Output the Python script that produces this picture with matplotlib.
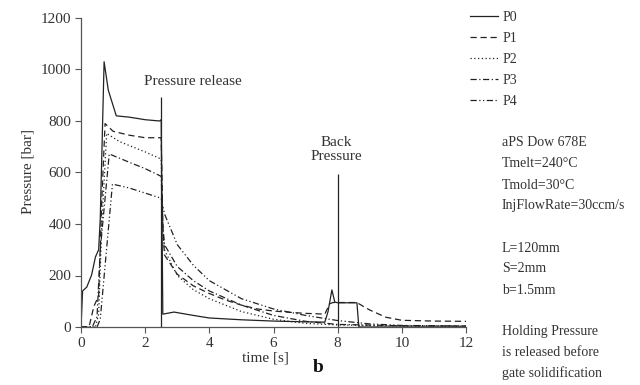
import matplotlib
matplotlib.use("Agg")
import matplotlib.pyplot as plt

plt.rcParams["font.family"] = ["Liberation Serif", "DejaVu Serif"]

# time [s] and pressure [bar] for each sensor position
t_p0 = [0, 0.05, 0.18, 0.33, 0.45, 0.55, 0.6, 0.72, 0.85, 1.1, 1.5, 2.0, 2.45, 2.5,
        2.55, 2.9, 3.5, 4.0, 5.0, 6.0, 7.0, 7.6, 7.7, 7.82, 7.91, 8.0, 8.6, 8.66, 9.0, 12.0]
p_p0 = [0, 140, 155, 202, 272, 300, 420, 1030, 920, 820, 815, 805, 800, 805,
        50, 58, 45, 35, 28, 23, 20, 19, 60, 144, 97, 94, 94, 0, 0, 0]

t_p1 = [0, 0.25, 0.4, 0.55, 0.65, 0.75, 1.0, 1.5, 2.0, 2.5, 2.55, 2.6, 3.0, 3.5, 4.0,
        4.5, 5.0, 5.5, 6.0, 6.5, 7.0, 7.6, 7.75, 7.85, 8.6, 8.8, 9.0, 9.5, 10.0, 11.0, 12.0]
p_p1 = [0, 0, 80, 120, 500, 790, 760, 745, 735, 735, 400, 280, 205, 160, 130,
        105, 85, 70, 62, 57, 53, 50, 90, 95, 95, 80, 66, 38, 26, 23, 22]

t_p2 = [0, 0.45, 0.55, 0.65, 0.8, 1.2, 2.0, 2.5, 2.55, 2.6, 3.0, 3.5, 4.0, 5.0, 6.0,
        7.0, 8.0, 10.0, 12.0]
p_p2 = [0, 0, 50, 400, 752, 720, 680, 652, 380, 300, 200, 145, 110, 60, 30,
        14, 8, 4, 3]

t_p3 = [0, 0.35, 0.5, 0.6, 0.88, 1.5, 2.0, 2.5, 2.55, 2.6, 3.0, 3.5, 4.0, 5.0, 6.0,
        7.0, 8.0, 10.0, 12.0]
p_p3 = [0, 0, 40, 300, 672, 640, 615, 585, 400, 320, 235, 180, 140, 85, 45,
        22, 10, 5, 4]

t_p4 = [0, 0.5, 0.6, 0.98, 1.5, 2.0, 2.5, 2.55, 2.6, 3.0, 3.5, 4.0, 5.0, 6.0, 7.0,
        8.0, 9.0, 10.0, 12.0]
p_p4 = [0, 0, 30, 555, 540, 520, 500, 470, 440, 320, 240, 180, 110, 70, 45,
        25, 12, 6, 4]

series = [
    ("P0", t_p0, p_p0, "-"),
    ("P1", t_p1, p_p1, (0, (5, 3))),
    ("P2", t_p2, p_p2, (0, (1, 2))),
    ("P3", t_p3, p_p3, (0, (5, 2, 1, 2))),
    ("P4", t_p4, p_p4, (0, (5, 2, 1, 2, 1, 2))),
]

notes = ["aPS Dow 678E", "Tmelt=240°C", "Tmold=30°C", "InjFlowRate=30ccm/s",
         "L=120mm", "S=2mm", "b=1.5mm",
         "Holding Pressure", "is released before", "gate solidification"]
note_y = [143, 164, 185, 206, 248, 269, 290, 331, 352, 373]

W, H = 640, 385
fig = plt.figure(figsize=(6.4, 3.85), dpi=100)
ax = fig.add_axes([81 / W, 1 - 327 / H, (466 - 81) / W, (327 - 18) / H])

ink = "#333333"
for name, t, p, ls in series:
    ax.plot(t, p, color="#222222", lw=0.9, ls=ls, label=name)

# event markers
ax.vlines(2.5, 0, 895, color="#222222", lw=0.9)
ax.vlines(8.0, 0, 595, color="#222222", lw=0.9)
ax.text(3.49, 955, "Pressure release", ha="center", va="center", fontsize=11, color=ink)
ax.text(7.95, 690, "Back\nPressure", ha="center", va="center", fontsize=11,
        color=ink, linespacing=1.1)

ax.set_xlim(0, 12)
ax.set_ylim(0, 1200)
ax.set_xticks(range(0, 13, 2))
ax.set_yticks(range(0, 1201, 200))
for s in ["top", "right"]:
    ax.spines[s].set_visible(False)
for s in ["left", "bottom"]:
    ax.spines[s].set_color("#555555")
    ax.spines[s].set_linewidth(0.9)
ax.tick_params(direction="out", length=4, width=0.8, color="#555555",
               labelsize=11, labelcolor=ink, pad=3)

fig.text(28 / W, 1 - 172 / H, "Pressure [bar]", rotation=90, ha="center", va="center",
         fontsize=11, color=ink)
fig.text(265 / W, 1 - 358 / H, "time [s]", ha="center", va="center", fontsize=11, color=ink)
fig.text(318 / W, 1 - 367 / H, "b", ha="center", va="center", fontsize=14,
         fontweight="bold", color="#111111")

ax.legend(loc="upper left", bbox_to_anchor=(470 / W, 1 - 11 / H),
          bbox_transform=fig.transFigure, frameon=False, fontsize=10,
          borderpad=0, borderaxespad=0,
          handlelength=2.0, handletextpad=0.35, labelspacing=0.57, labelcolor=ink)

for txt, yp in zip(notes, note_y):
    fig.text(502 / W, 1 - yp / H, txt, ha="left", va="center", fontsize=10, color=ink)

fig.savefig("out.png", dpi=100)
